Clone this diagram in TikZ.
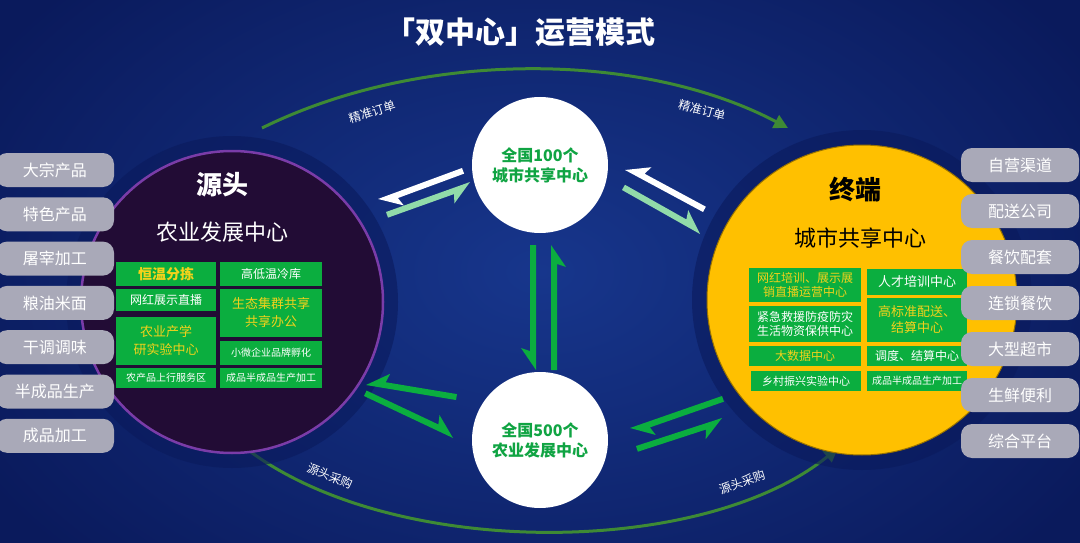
\documentclass[tikz,border=0pt]{standalone}
\usepackage{fontspec}
\setmainfont{Noto Sans CJK SC}
\usetikzlibrary{arrows.meta,shadings,calc}
\definecolor{bgblue}{HTML}{17368C}
\definecolor{bgdark}{HTML}{0A1A5C}
\definecolor{cellgreen}{HTML}{0BAE3F}
\definecolor{txtgreen}{HTML}{10A443}
\definecolor{gold}{HTML}{FFC000}
\definecolor{yel}{HTML}{F3D21B}
\definecolor{pill}{HTML}{A9A9B8}
\definecolor{deeppurple}{HTML}{220C35}
\definecolor{ringpurple}{HTML}{7A3CA8}
\definecolor{arcgreen}{HTML}{3E8A35}

% filled half arrow: colour, tail, tip, barb side, opposite side
\newcommand{\harpoon}[5]{%
  \fill[#1] (#2) -- (#3) -- ($(#3)!22pt!(#2)!15pt!#4:(#2)$) -- ($(#3)!19pt!(#2)!6pt!#4:(#2)$)
    -- ($(#2)!6pt!#5:(#3)$) -- cycle;}

\begin{document}
\begin{tikzpicture}
        [x=1pt,y=-1pt,
         pillbox/.style={fill=pill,rounded corners=11pt,minimum width=118pt,minimum height=34pt,
                         font=\fontsize{16}{18}\selectfont,text=white},
         cellL/.style={fill=cellgreen,draw=deeppurple,line width=1.2pt,inner sep=0pt,align=center,
                       font=\fontsize{12}{15}\selectfont,text=white},
         cellR/.style={cellL,draw=gold},
         hub/.style={circle,fill=white,minimum size=136pt,align=center,text=txtgreen,
                     font=\bfseries\fontsize{16}{20}\selectfont},
         tag/.style={text=white,font=\fontsize{12}{14}\selectfont}]

        \useasboundingbox (0,0) rectangle (1080,543);
        \clip (0,0) rectangle (1080,543);
        \shade[inner color=bgblue,outer color=bgdark] (-100,-150) rectangle (1180,693);

        \node[text=white,font=\bfseries\fontsize{30}{34}\selectfont] (title) at (520,32) {「双中心」运营模式};

        % outer loop
        \coordinate (tl) at (262,128);
        \coordinate (tr) at (788,128);
        \coordinate (bl) at (238,442);
        \coordinate (br) at (838,448);
        \draw[arcgreen,line width=3pt,-{Triangle[length=14pt,width=14pt]}] (tl) .. controls (420,50) and (640,50) .. (tr);
        \draw[arcgreen,line width=3pt,-{Triangle[length=14pt,width=14pt]}] (bl) .. controls (380,560) and (700,560) .. (br);
        \node[tag,rotate=17] (o1) at (372,112) {精准订单};
        \node[tag,rotate=-15] (o2) at (702,110) {精准订单};
        \node[tag,rotate=-22] (s1) at (330,476) {源头采购};
        \node[tag,rotate=20] (s2) at (742,482) {源头采购};

        % source circle
        \fill[bgdark,opacity=.6] (232,302) circle (166);
        \node[circle,fill=deeppurple,draw=ringpurple,line width=2.5pt,minimum size=302pt] (src) at (232,302) {};
        \node[text=white,font=\bfseries\fontsize{26}{30}\selectfont] (srct) at (222,185) {源头};
        \node[text=white,font=\fontsize{22}{26}\selectfont] (srcs) at (222,232) {农业发展中心};
        \node[cellL,minimum width=102pt,minimum height=26pt,text=yel,font=\bfseries\fontsize{14}{16}\selectfont] (a1) at (166,274) {恒温分拣};
        \node[cellL,minimum width=104pt,minimum height=26pt] (a2) at (271,274) {高低温冷库};
        \node[cellL,minimum width=102pt,minimum height=24pt] (a3) at (166,300) {网红展示直播};
        \node[cellL,minimum width=102pt,minimum height=50pt,text=yel,font=\fontsize{13}{18}\selectfont] (a4) at (166,341) {农业产学\\研实验中心};
        \node[cellL,minimum width=104pt,minimum height=49pt,text=yel,font=\fontsize{13}{18}\selectfont] (a5) at (271,313) {生态集群共享\\共享办公};
        \node[cellL,minimum width=104pt,minimum height=25pt,font=\fontsize{10}{12}\selectfont] (a6) at (271,353) {小微企业品牌孵化};
        \node[cellL,minimum width=102pt,minimum height=22pt,font=\fontsize{10}{12}\selectfont] (a7) at (166,378) {农产品上行服务区};
        \node[cellL,minimum width=104pt,minimum height=22pt,font=\fontsize{10}{12}\selectfont] (a8) at (271,378) {成品半成品生产加工};

        % left pills
        \foreach \t [count=\i] in {大宗产品,特色产品,屠宰加工,粮油米面,干调调味,半成品生产,成品加工}
          \node[pillbox] (lp\i) at (55,170+44.3*\i-44.3) {\t};

        % terminal circle
        \fill[bgdark,opacity=.6] (862,300) circle (170);
        \node[circle,fill=gold,draw=gold!60!black,line width=1pt,minimum size=310pt] (dst) at (862,300) {};
        \node[font=\bfseries\fontsize{26}{30}\selectfont] (dstt) at (855,190) {终端};
        \node[font=\fontsize{22}{26}\selectfont] (dsts) at (860,238) {城市共享中心};
        \node[cellR,minimum width=114pt,minimum height=36pt,text=yel,font=\fontsize{12}{14}\selectfont] (b1) at (805,285) {网红培训、展示展\\销直播运营中心};
        \node[cellR,minimum width=102pt,minimum height=28pt,font=\fontsize{13}{15}\selectfont] (b2) at (917,282) {人才培训中心};
        \node[cellR,minimum width=114pt,minimum height=37pt,font=\fontsize{12}{14}\selectfont] (b3) at (805,324) {紧急救援防疫防灾\\生活物资保供中心};
        \node[cellR,minimum width=102pt,minimum height=45pt,text=yel,font=\fontsize{13}{16}\selectfont] (b4) at (917,320) {高标准配送、\\结算中心};
        \node[cellR,minimum width=114pt,minimum height=21pt,text=yel] (b5) at (805,356) {大数据中心};
        \node[cellR,minimum width=102pt,minimum height=21pt] (b6) at (917,356) {调度、结算中心};
        \node[cellR,minimum width=112pt,minimum height=21pt,font=\fontsize{11}{13}\selectfont] (b7) at (806,381) {乡村振兴实验中心};
        \node[cellR,minimum width=102pt,minimum height=21pt,font=\fontsize{10}{12}\selectfont] (b8) at (917,381) {成品半成品生产加工};

        % right pills
        \foreach \t [count=\i] in {自营渠道,配送公司,餐饮配套,连锁餐饮,大型超市,生鲜便利,综合平台}
          \node[pillbox] (rp\i) at (1020,165+46*\i-46) {\t};

        % hubs
        \node[hub] (city) at (540,165) {全国100个\\城市共享中心};
        \node[hub] (farm) at (540,440) {全国500个\\农业发展中心};

        % harpoons
        \coordinate (c1) at (462,168); \coordinate (c2) at (378,199);
        \coordinate (c3) at (386,212); \coordinate (c4) at (470,182);
        \coordinate (c5) at (703,212); \coordinate (c6) at (625,170);
        \coordinate (c7) at (622,190); \coordinate (c8) at (700,234);
        \coordinate (v1) at (536,245); \coordinate (v2) at (536,370);
        \coordinate (v3) at (551,370); \coordinate (v4) at (551,245);
        \coordinate (d1) at (456,400); \coordinate (d2) at (366,385);
        \coordinate (d3) at (364,396); \coordinate (d4) at (453,438);
        \coordinate (e1) at (722,396); \coordinate (e2) at (630,428);
        \coordinate (e3) at (636,446); \coordinate (e4) at (722,418);
        \harpoon{white}{c1}{c2}{-90}{90}
        \harpoon{white!55!cellgreen}{c3}{c4}{90}{-90}
        \harpoon{white}{c5}{c6}{90}{-90}
        \harpoon{white!55!cellgreen}{c7}{c8}{-90}{90}
        \harpoon{cellgreen}{v1}{v2}{90}{-90}
        \harpoon{cellgreen}{v3}{v4}{90}{-90}
        \harpoon{cellgreen}{d1}{d2}{90}{-90}
        \harpoon{cellgreen}{d3}{d4}{-90}{90}
        \harpoon{cellgreen}{e1}{e2}{-90}{90}
        \harpoon{cellgreen}{e3}{e4}{90}{-90}
\end{tikzpicture}
\end{document}
